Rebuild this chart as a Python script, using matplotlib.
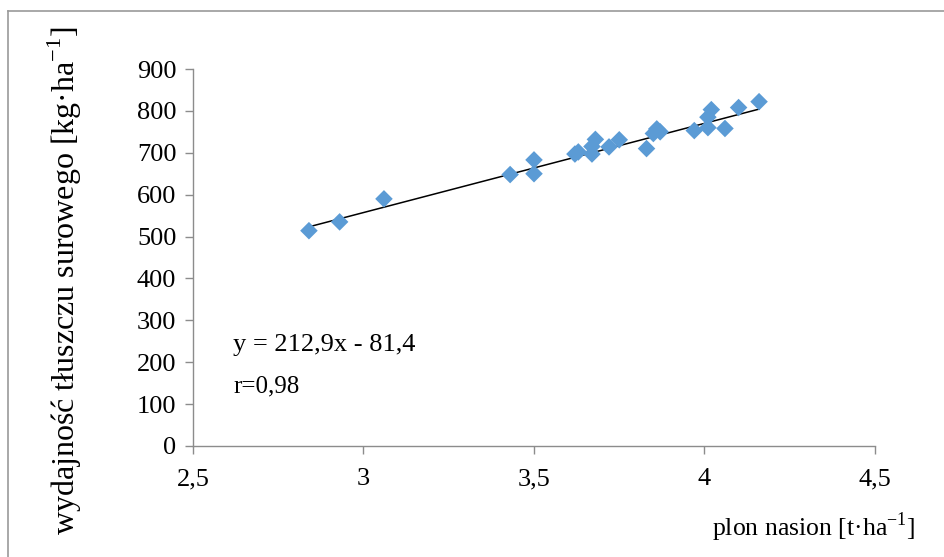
import numpy as np
import matplotlib
matplotlib.use("Agg")
import matplotlib.pyplot as plt
from matplotlib.lines import Line2D

plt.rcParams['font.family'] = ['Liberation Serif', 'DejaVu Serif']

# seed yield [t/ha] and crude fat yield [kg/ha]
plon = [2.84, 2.93, 3.06, 3.43, 3.50, 3.50, 3.62, 3.63, 3.67, 3.67, 3.68,
        3.72, 3.75, 3.83, 3.85, 3.86, 3.87, 3.97, 4.01, 4.01, 4.02, 4.06,
        4.10, 4.16]
tluszcz = [514, 535, 590, 648, 683, 650, 697, 702, 697, 715, 732,
           714, 731, 710, 746, 757, 750, 753, 760, 785, 803, 758,
           808, 822]

# regression line y = a*x + b
a_coef = 212.9
b_coef = -81.4
equation = "y = 212,9x - 81,4"
r_text = "r=0,98"

x_ticks = [2.5, 3.0, 3.5, 4.0, 4.5]
x_ticklabels = ["2,5", "3", "3,5", "4", "4,5"]
y_ticks = list(range(0, 1000, 100))

W, H = 944, 557
fig = plt.figure(figsize=(W / 100, H / 100), dpi=100)
ax = fig.add_axes([193 / W, 1 - 446 / H, (875 - 193) / W, (446 - 69) / H])

ax.scatter(plon, tluszcz, marker="D", s=80, color="#5B9BD5",
           edgecolors="none", zorder=3)
xl = np.array([min(plon), max(plon)])
ax.plot(xl, a_coef * xl + b_coef, color="black", lw=1.1, zorder=2)

ax.set_xlim(2.5, 4.5)
ax.set_ylim(0, 900)
ax.set_xticks(x_ticks)
ax.set_xticklabels(x_ticklabels)
ax.set_yticks(y_ticks)

for s in ["top", "right"]:
    ax.spines[s].set_visible(False)
for s in ["left", "bottom"]:
    ax.spines[s].set_color("#8c8c8c")
    ax.spines[s].set_linewidth(1.0)
ax.tick_params(direction="out", length=6, width=1.0, color="#8c8c8c",
               labelsize=19, labelcolor="black")
ax.tick_params(axis="x", pad=10)
ax.tick_params(axis="y", pad=6)

fig.text(915 / W, 1 - 527 / H, "plon nasion [t·ha$^{\\mathregular{-1}}$]",
         ha="right", va="center", fontsize=18.5)
fig.text(65 / W, 1 - 281 / H,
         "wydajność tłuszczu surowego [kg·ha$^{\\mathregular{-1}}$]",
         ha="center", va="center", rotation=90, fontsize=23)

fig.text(233 / W, 1 - 345 / H, equation, ha="left", va="center", fontsize=19)
fig.text(233 / W, 1 - 386 / H, r_text, ha="left", va="center", fontsize=18)

# outer chart border (Excel chart area)
fig.add_artist(Line2D([8 / W, 1], [1 - 11 / H, 1 - 11 / H], color="#9a9a9a", lw=1.2))
fig.add_artist(Line2D([8 / W, 8 / W], [0, 1 - 11 / H], color="#9a9a9a", lw=1.2))

fig.savefig("out.png", dpi=100)
